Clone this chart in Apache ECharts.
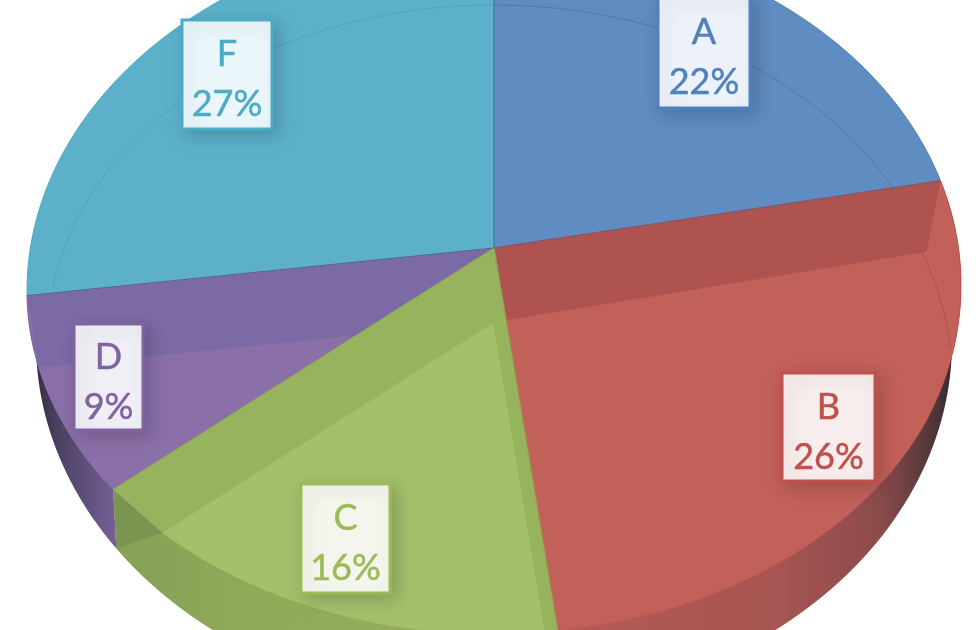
<!DOCTYPE html>
<html><head><meta charset="utf-8">
<style>html,body{margin:0;padding:0;background:#fff}#c{width:980px;height:630px}</style>
<script src="https://cdn.jsdelivr.net/npm/echarts@6/dist/echarts.min.js"></script>
</head><body><div id="c"></div>
<script>
const categories = ['A','B','C','D','F'];
const values = [22,26,16,9,27];
const topColors = ['#5f8cc1','#c2605a','#a3c06b','#8a6fa8','#5cb0c9'];
const textColors = ['#4f81bd','#c0504d','#9bbb59','#8064a2','#4bacc6'];
const boxFills = ['#edf1f9','#f7eded','#f4f6ee','#f1eff6','#eaf6f9'];
const labelBoxes = [[658,-4,92,112],[782,373,93,108],[301,484,89,109],[74,324,69,106],[182,20,90,109]];

const total = values.reduce((a,b)=>a+b,0);
const starts = []; { let s=0; for(const v of values){ starts.push(s/total*2*Math.PI); s+=v; } }
const ends = values.map((v,i)=>starts[i]+v/total*2*Math.PI);

const APEX=[494,248], CX=494, K=(248-288)/357;
const RIM={cy:288,a:467,b:357,k:K,shear:-0.006}, LIP={cy:291,a:467,b:343}, LOW={cy:342,a:458,b:365,k:K}, INNER={cy:337,a:446,b:332,k:(248-337)/332};
const proj=(th,E)=>{
  const k=E.k, u=Math.sin(th), v=-Math.cos(th), d=1+k*v;
  const x=CX+E.a*u*Math.sqrt(1-k*k)/d;
  return [x, E.cy+E.b*(v+k)/d+(E.shear||0)*(x-CX)];
};
const insideLip=p=>{const x=(p[0]-CX)/LIP.a,y=(p[1]-LIP.cy)/LIP.b;return x*x+y*y<=1;};
const clipLip=(o,p)=>{
  if(p[1]<300||insideLip(p))return p;
  let lo=0,hi=1;
  for(let i=0;i<30;i++){const m=(lo+hi)/2;const q=[o[0]+(p[0]-o[0])*m,o[1]+(p[1]-o[1])*m];if(insideLip(q))lo=m;else hi=m;}
  return [o[0]+(p[0]-o[0])*lo,o[1]+(p[1]-o[1])*lo];
};
const topPt=th=>clipLip(APEX,proj(th,RIM));
const arc=(a,b,fn,n=70)=>{const r=[];for(let i=0;i<=n;i++)r.push(fn(a+(b-a)*i/n));return r;};
const grad=(x,x2,stops)=>({type:'linear',x:x,y:0,x2:x2,y2:0,global:true,colorStops:stops.map(s=>({offset:s[0],color:s[1]}))});
const poly=(points,fill,z2,stroke)=>({type:'polygon',shape:{points},z2,silent:true,style:{fill,stroke:stroke||null,lineWidth:stroke?1:0}});
const line=(points,stroke,z2,w)=>({type:'polyline',shape:{points},z2,silent:true,style:{fill:null,stroke,lineWidth:w||1}});

const wallFill={
  1:grad(560,950,[[0,'#b35b57'],[.55,'#a75552'],[.82,'#8c4b4a'],[.97,'#4a3436'],[1,'#3a2c30']]),
  2:grad(118,560,[[0,'#86a155'],[.3,'#90aa5a'],[1,'#98b060']]),
  3:grad(30,118,[[0,'#2c2838'],[.3,'#4b4060'],[1,'#77619a']])
};
const bands={
  1:[{end:0,off:[13,72],t:.94,adj:[0,-5],fill:'#ae5350'}],
  2:[{end:0,off:[-1,75],t:1,fill:'#98b35d'},{end:1,off:[-1,75],t:1,fill:'#98b35d'}],
  3:[{end:1,off:[0,73],t:.98,fill:'#7b6aa5'}]
};
const edges={0:[[0,'#3d6b9e']],1:[[0,'#a04a48']],2:[[0,'#8aa450'],[1,'#8aa450']],3:[[1,'#67588f']]};
const order={3:10,1:20,2:30,0:40,4:50};

function renderItem(params,api){
  const i=params.dataIndex, th0=starts[i], th1=ends[i], z=order[i], c=[];
  const top=arc(th0,th1,topPt);
  if(wallFill[i]){
    c.push(poly(arc(th0,th1,t=>proj(t,LOW)).concat(top.slice().reverse()),wallFill[i],z-8));
  }
  c.push(poly([APEX].concat(top),topColors[i],z,textColors[i]));
  (bands[i]||[]).forEach(b=>{
    const th=b.end?th1:th0, r=topPt(th), a2=[APEX[0]+b.off[0],APEX[1]+b.off[1]];
    const raw=proj(th,RIM), adj=b.adj||[0,0];
    const s=clipLip(a2,[a2[0]+(raw[0]-APEX[0])*b.t+adj[0],a2[1]+(raw[1]-APEX[1])*b.t+adj[1]]);
    c.push(poly([APEX,r,s,a2],b.fill,z+1));
    if(i===2&&b.end){
      c.push(poly([r,proj(th,LOW),s],'#7a9550',z+2));
    }
    if(i===1){
      const pts=[];for(let y=s[1];y<=350;y+=6){const q=(y-380)/360;pts.push([494+458*Math.sqrt(1-q*q),y]);}
      c.push(line(pts,'#b0504e',z+2));
    }
  });
  if(i===0||i===4){
    c.push(line(arc(th0,th1,t=>proj(t,INNER)),i===0?'#5079b0':'#4fa3bd',z+1));
  }
  (edges[i]||[]).forEach(e=>{
    c.push(line([APEX,topPt(e[0]?th1:th0)],e[1],60));
  });
  const [bx,by,bw,bh]=labelBoxes[i], mx=bx+bw/2;
  c.push({type:'rect',shape:{x:bx,y:by,width:bw,height:bh},z2:100,silent:true,
    style:{fill:boxFills[i],stroke:textColors[i],lineWidth:3,shadowBlur:16,shadowOffsetX:5,shadowOffsetY:5,shadowColor:'rgba(0,0,0,0.16)'}});
  const font='36px Lato, "Open Sans", sans-serif';
  const ly=by+bh/2+4;
  const t=(text,y)=>({type:'text',z2:101,silent:true,style:{text,x:mx,y,fill:textColors[i],stroke:textColors[i],lineWidth:0.5,font,align:'center',verticalAlign:'middle'}});
  c.push(t(api.value(0),ly-24));
  c.push(t(api.value(1)+'%',ly+26));
  return {type:'group',children:c};
}
const chart=echarts.init(document.getElementById('c'),null,{renderer:'canvas'});
chart.setOption({
  animation:false,backgroundColor:'#ffffff',
  series:[{type:'custom',coordinateSystem:'none',renderItem,clip:false,
    encode:{},data:categories.map((n,i)=>[n,values[i]]),
    dimensions:[{name:'name',type:'ordinal'},{name:'value',type:'number'}]}]
});
</script></body></html>
